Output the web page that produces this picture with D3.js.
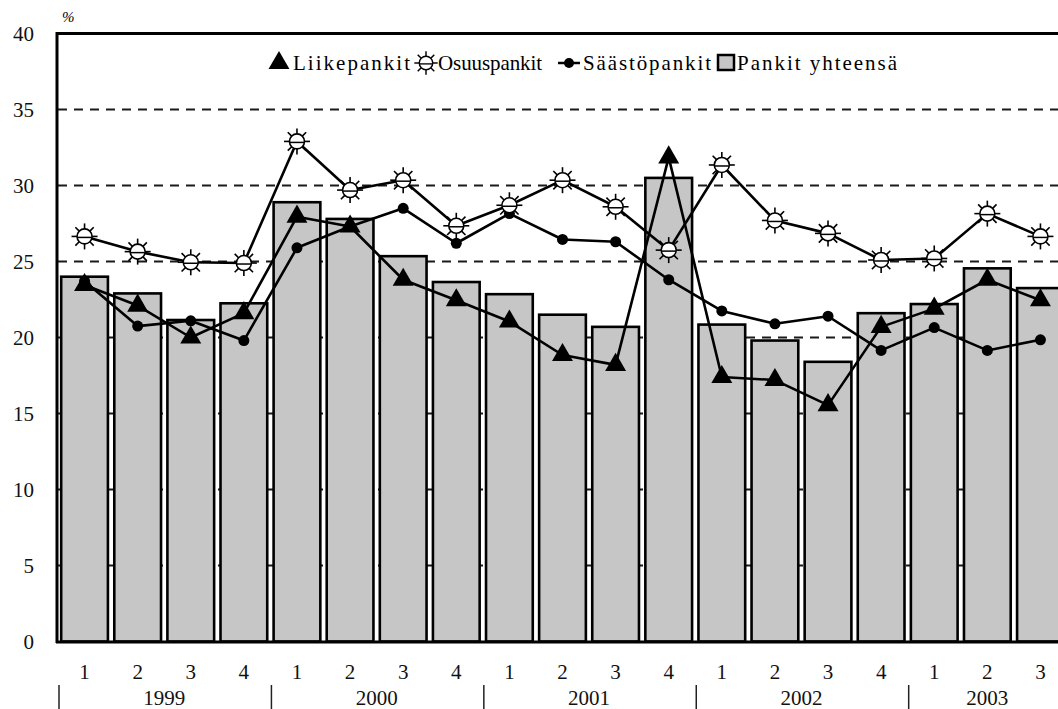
<!DOCTYPE html>
<html><head><meta charset="utf-8">
<script src="https://cdn.jsdelivr.net/npm/d3@7"></script>
<style>html,body{margin:0;padding:0;background:#fff;overflow:hidden}svg{display:block}</style>
</head><body>
<script>
const categories = ["1999-1","1999-2","1999-3","1999-4","2000-1","2000-2","2000-3","2000-4","2001-1","2001-2","2001-3","2001-4","2002-1","2002-2","2002-3","2002-4","2003-1","2003-2","2003-3"];
const years = ["1999","2000","2001","2002","2003"];
const pankitYhteensa = [24.0,22.9,21.15,22.25,28.9,27.8,25.35,23.65,22.85,21.5,20.7,30.5,20.85,19.8,18.4,21.6,22.2,24.55,23.25];
const liikepankit = [23.45,22.1,20.0,21.6,27.95,27.3,23.8,22.45,21.05,18.85,18.2,31.85,17.4,17.2,15.55,20.7,21.9,23.8,22.45];
const osuuspankit = [26.65,25.65,24.95,24.9,32.9,29.7,30.35,27.35,28.7,30.35,28.6,25.75,31.35,27.7,26.85,25.1,25.2,28.15,26.65];
const saastopankit = [23.7,20.75,21.1,19.8,25.9,27.3,28.5,26.2,28.15,26.45,26.3,23.8,21.75,20.9,21.4,19.15,20.65,19.15,19.85];
const yTicks = [0,5,10,15,20,25,30,35,40];
const legendLabels = ["Liikepankit","Osuuspankit","Säästöpankit","Pankit yhteensä"];

const W = 1058, H = 709;
const svg = d3.select("body").append("svg").attr("width", W).attr("height", H);
const font = "Liberation Serif, Times New Roman, serif";

const y = d3.scaleLinear().domain([0,40]).range([641.5,33.5]);
const x = d3.scaleBand().domain(categories).range([58,1067]).paddingInner(0.12).paddingOuter(0.06);
const bw = x.bandwidth(), step = x.step();
const cx = c => x(c) + bw/2;

// gridlines
svg.append("g").selectAll("line").data(yTicks.filter(t => t > 0 && t < 40)).join("line")
  .attr("x1", 58).attr("x2", W).attr("y1", d => y(d)).attr("y2", d => y(d))
  .attr("stroke", "#1a1a1a").attr("stroke-width", 2).attr("stroke-dasharray", "9,7");

// bars
svg.append("g").selectAll("rect").data(categories).join("rect")
  .attr("x", d => x(d)).attr("width", bw)
  .attr("y", (d,i) => y(pankitYhteensa[i])).attr("height", (d,i) => y(0) - y(pankitYhteensa[i]))
  .attr("fill", "#c6c6c6").attr("stroke", "#000").attr("stroke-width", 2.6);

// frame
svg.append("line").attr("x1", 56.5).attr("x2", W).attr("y1", 33.5).attr("y2", 33.5).attr("stroke", "#000").attr("stroke-width", 3);
svg.append("line").attr("x1", 57).attr("x2", 57).attr("y1", 32).attr("y2", 643).attr("stroke", "#000").attr("stroke-width", 3);
svg.append("line").attr("x1", 56).attr("x2", W).attr("y1", 642).attr("y2", 642).attr("stroke", "#000").attr("stroke-width", 3);

// y axis labels
const yAxis = d3.axisLeft(y).tickValues(yTicks).tickSize(0).tickPadding(23);
const gy = svg.append("g").attr("transform", "translate(57,0)").call(yAxis);
gy.select(".domain").remove();
gy.selectAll("text").attr("font-family", font).attr("font-size", 21).attr("fill", "#111");

svg.append("text").attr("x", 62).attr("y", 22).attr("font-family", font).attr("font-size", 15).attr("font-style","italic").text("%");

// x axis quarter labels
const xAxis = d3.axisBottom(x).tickSize(0).tickPadding(22).tickFormat(d => d.split("-")[1]);
const gx = svg.append("g").attr("transform", "translate(0,642)").call(xAxis);
gx.select(".domain").remove();
gx.selectAll("text").attr("font-family", font).attr("font-size", 21).attr("fill", "#111");

// year labels and separators
years.forEach(yr => {
  const cs = categories.filter(c => c.startsWith(yr));
  const start = x(cs[0]) - (step - bw)/2;
  const mid = (cx(cs[0]) + cx(cs[cs.length-1]))/2;
  svg.append("line").attr("x1", start+1).attr("x2", start+1).attr("y1", 685).attr("y2", 709).attr("stroke", "#222").attr("stroke-width", 1.5);
  svg.append("text").attr("x", mid).attr("y", 705).attr("text-anchor", "middle").attr("font-family", font).attr("font-size", 21).attr("fill", "#111").text(yr);
});

// lines
const line = d3.line().x((d,i) => cx(categories[i])).y(d => y(d));
[liikepankit, osuuspankit, saastopankit].forEach(s => {
  svg.append("path").datum(s).attr("d", line).attr("fill", "none").attr("stroke", "#000").attr("stroke-width", 2.6).attr("stroke-linejoin", "round");
});

// marker helpers
const tri = d3.symbol().type(d3.symbolTriangle).size(190);
function sun(g) {
  d3.range(8).forEach(k => {
    const a = k * Math.PI / 4;
    g.append("line").attr("x1", 7.5*Math.cos(a)).attr("y1", 7.5*Math.sin(a)).attr("x2", 13*Math.cos(a)).attr("y2", 13*Math.sin(a))
      .attr("stroke", "#000").attr("stroke-width", 1.6);
  });
  g.append("circle").attr("r", 7.5).attr("fill", "#fff").attr("stroke", "#000").attr("stroke-width", 1.6);
  g.append("line").attr("x1", -7).attr("x2", 7).attr("y1", 1).attr("y2", 1).attr("stroke", "#000").attr("stroke-width", 1.5);
}

// Säästöpankit markers
svg.append("g").selectAll("circle").data(saastopankit).join("circle")
  .attr("cx", (d,i) => cx(categories[i])).attr("cy", d => y(d)).attr("r", 5.5).attr("fill", "#000");
// Osuuspankit markers
osuuspankit.forEach((v,i) => sun(svg.append("g").attr("transform", `translate(${cx(categories[i])},${y(v)})`)));
// Liikepankit markers
svg.append("g").selectAll("path").data(liikepankit).join("path")
  .attr("d", tri).attr("transform", (d,i) => `translate(${cx(categories[i])},${y(d)})`).attr("fill", "#000");

// legend
const lg = svg.append("g");
const ly = 63;
function ltext(xp, w, t) {
  lg.append("text").attr("x", xp).attr("y", ly+7).attr("font-family", font).attr("font-size", 21)
    .attr("textLength", w).attr("lengthAdjust", "spacing").text(t);
}
lg.append("path").attr("d", d3.symbol().type(d3.symbolTriangle).size(190)()).attr("transform", `translate(279,${ly})`).attr("fill", "#000");
ltext(293, 117, legendLabels[0]);
sun(lg.append("g").attr("transform", `translate(426,${ly}) scale(0.9)`));
ltext(438, 104, legendLabels[1]);
lg.append("line").attr("x1", 558).attr("x2", 580).attr("y1", ly).attr("y2", ly).attr("stroke", "#000").attr("stroke-width", 2.5);
lg.append("circle").attr("cx", 569).attr("cy", ly).attr("r", 5).attr("fill", "#000");
ltext(583, 128, legendLabels[2]);
lg.append("rect").attr("x", 718).attr("y", ly-8).attr("width", 16).attr("height", 15).attr("fill", "#c6c6c6").attr("stroke", "#000").attr("stroke-width", 2.5);
ltext(737, 160, legendLabels[3]);
</script>
</body></html>
